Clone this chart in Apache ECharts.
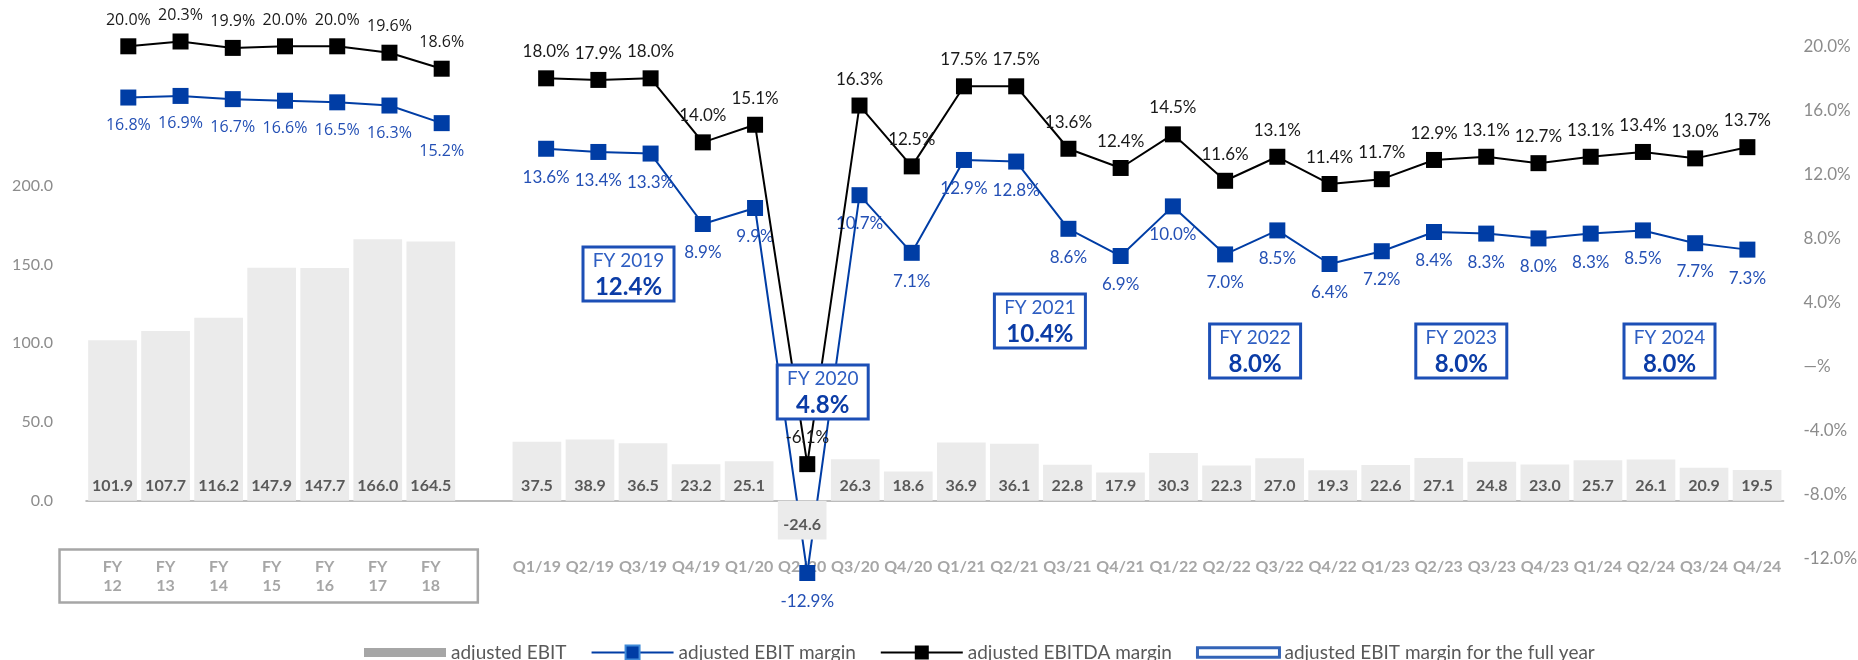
<!DOCTYPE html>
<html>
<head>
<meta charset="utf-8">
<script src="https://cdn.jsdelivr.net/npm/echarts@6/dist/echarts.min.js"></script>
<style>
  html, body { margin: 0; padding: 0; background: #ffffff; }
  #chart { width: 1858px; height: 660px; }
</style>
</head>
<body>
<div id="chart"></div>
<script>
// ---- data ----
const categories = [
  'FY\n12', 'FY\n13', 'FY\n14', 'FY\n15', 'FY\n16', 'FY\n17', 'FY\n18', '',
  'Q1/19', 'Q2/19', 'Q3/19', 'Q4/19', 'Q1/20', 'Q2/20', 'Q3/20', 'Q4/20',
  'Q1/21', 'Q2/21', 'Q3/21', 'Q4/21', 'Q1/22', 'Q2/22', 'Q3/22', 'Q4/22',
  'Q1/23', 'Q2/23', 'Q3/23', 'Q4/23', 'Q1/24', 'Q2/24', 'Q3/24', 'Q4/24'
];
const adjustedEbit = [
  101.9, 107.7, 116.2, 147.9, 147.7, 166.0, 164.5, null,
  37.5, 38.9, 36.5, 23.2, 25.1, -24.6, 26.3, 18.6,
  36.9, 36.1, 22.8, 17.9, 30.3, 22.3, 27.0, 19.3,
  22.6, 27.1, 24.8, 23.0, 25.7, 26.1, 20.9, 19.5
];
const ebitMargin = [
  16.8, 16.9, 16.7, 16.6, 16.5, 16.3, 15.2, null,
  13.6, 13.4, 13.3, 8.9, 9.9, -12.9, 10.7, 7.1,
  12.9, 12.8, 8.6, 6.9, 10.0, 7.0, 8.5, 6.4,
  7.2, 8.4, 8.3, 8.0, 8.3, 8.5, 7.7, 7.3
];
const ebitdaMargin = [
  20.0, 20.3, 19.9, 20.0, 20.0, 19.6, 18.6, null,
  18.0, 17.9, 18.0, 14.0, 15.1, -6.1, 16.3, 12.5,
  17.5, 17.5, 13.6, 12.4, 14.5, 11.6, 13.1, 11.4,
  11.7, 12.9, 13.1, 12.7, 13.1, 13.4, 13.0, 13.7
];
const fullYears = ['FY 2019', 'FY 2020', 'FY 2021', 'FY 2022', 'FY 2023', 'FY 2024'];
const fullYearMargins = [12.4, 4.8, 10.4, 8.0, 8.0, 8.0];
const ebitAxis = { min: -50, max: 300, step: 50, labelFrom: 0, labelTo: 200 };
const marginAxis = { min: -12, max: 20, step: 4 };

// ---- styling ----
const BLUE = '#003da5';
const BLUE_TEXT = '#2450b5';
const GREY_TEXT = '#8c8c8c';
const ANNUAL_COUNT = 7;           // FY12..FY18 use the wider label face
const FIRST_QUARTER = 8;          // index of Q1/19

const chart = echarts.init(document.getElementById('chart'), null, { renderer: 'canvas' });

function lineData(values, color) {
  return values.map((v, i) => v == null ? '-' : {
    value: v,
    label: i < ANNUAL_COUNT
      ? { fontFamily: 'Open Sans', fontSize: 16, color: color }
      : { fontFamily: 'Lato', fontSize: 17, color: color }
  });
}

const pct = v => v.toFixed(1) + '%';

chart.setOption({
  animation: false,
  backgroundColor: '#ffffff',
  grid: [
    // bars
    { left: 86, top: 28.2, width: 1697.6, height: 551.25, outerBoundsMode: 'none', containLabel: false },
    // margin lines
    { left: 102.2, top: 46.3, width: 1671.3, height: 512.3, outerBoundsMode: 'none', containLabel: false }
  ],
  xAxis: [
    {
      type: 'category', gridIndex: 0, data: categories, boundaryGap: true,
      axisLine: { show: true, onZero: true, lineStyle: { color: '#a6a6a6', width: 1.5 } },
      axisTick: { show: false },
      axisLabel: {
        interval: 0, margin: -22, color: '#a6a6a6', fontFamily: 'Lato', fontWeight: 'bold',
        fontSize: 16, lineHeight: 19
      },
      splitLine: { show: false }
    },
    {
      type: 'category', gridIndex: 1, data: categories, boundaryGap: true, show: false
    }
  ],
  yAxis: [
    {
      type: 'value', gridIndex: 0, position: 'left',
      min: ebitAxis.min, max: ebitAxis.max, interval: ebitAxis.step,
      axisLine: { show: false }, axisTick: { show: false }, splitLine: { show: false },
      axisLabel: {
        margin: 33, color: GREY_TEXT, fontFamily: 'Lato', fontSize: 16,
        formatter: v => (v >= ebitAxis.labelFrom && v <= ebitAxis.labelTo) ? v.toFixed(1) : ''
      }
    },
    {
      type: 'value', gridIndex: 1, position: 'right',
      min: marginAxis.min, max: marginAxis.max, interval: marginAxis.step,
      axisLine: { show: false }, axisTick: { show: false }, splitLine: { show: false },
      axisLabel: {
        margin: 30, color: GREY_TEXT, fontFamily: 'Lato', fontSize: 17,
        formatter: v => v === 0 ? '\u2014%' : pct(v)
      }
    }
  ],
  legend: {
    left: 359, top: 638, itemWidth: 82, itemHeight: 17.5, itemGap: 24,
    symbolKeepAspect: true,
    textStyle: { fontFamily: 'Lato', fontSize: 19, color: '#595959' },
    selectedMode: false,
    data: [
      { name: 'adjusted EBIT', icon: 'path://M0,0H82V9H0Z', itemStyle: { color: '#a6a6a6' } },
      { name: 'adjusted EBIT margin', itemStyle: { color: BLUE, borderColor: '#3f8ad8', borderWidth: 2 } },
      { name: 'adjusted EBITDA margin' },
      { name: 'adjusted EBIT margin for the full year', icon: 'path://M0,0H86V10H0Z',
        itemStyle: { color: '#ffffff', borderColor: BLUE, borderWidth: 3 } }
    ]
  },
  series: [
    {
      // bars sit above the margin lines where they cross
      name: 'adjusted EBIT', type: 'bar', xAxisIndex: 0, yAxisIndex: 0,
      data: adjustedEbit.map(v => v == null ? '-' : v),
      barCategoryGap: '8.2%',
      itemStyle: { color: '#ebebeb' },
      label: {
        show: true, position: 'insideBottom', distance: 7,
        color: '#595959', fontFamily: 'Lato', fontWeight: 'bold', fontSize: 16,
        formatter: p => p.value.toFixed(1)
      },
      z: 6
    },
    {
      name: 'adjusted EBIT margin', type: 'line', xAxisIndex: 1, yAxisIndex: 1,
      data: lineData(ebitMargin, BLUE_TEXT),
      clip: false, connectNulls: false,
      symbol: 'rect', symbolSize: 16, showAllSymbol: true,
      lineStyle: { color: BLUE, width: 2 },
      itemStyle: { color: BLUE },
      label: {
        show: true, position: 'bottom', distance: 12,
        formatter: p => pct(p.value)
      },
      z: 4
    },
    {
      name: 'adjusted EBITDA margin', type: 'line', xAxisIndex: 1, yAxisIndex: 1,
      data: lineData(ebitdaMargin, '#1a1a1a'),
      clip: false, connectNulls: false,
      symbol: 'rect', symbolSize: 16, showAllSymbol: true,
      lineStyle: { color: '#000000', width: 2 },
      itemStyle: { color: '#000000' },
      label: {
        show: true, position: 'top', distance: 10,
        formatter: p => pct(p.value)
      },
      z: 5
    },
    {
      name: 'adjusted EBIT margin for the full year', type: 'scatter',
      xAxisIndex: 1, yAxisIndex: 1, data: [],
      symbol: 'rect',
      itemStyle: { color: '#ffffff', borderColor: BLUE, borderWidth: 3 }
    }
  ]
});

// ---- annotations: full-year boxes and the frame around the annual labels ----
// box placement: horizontal nudge from the year's centre and top edge, in pixels
const boxPlacement = [
  { dx: 12, top: 247 }, { dx: -6, top: 365 }, { dx: -1, top: 294 },
  { dx: 2, top: 324 }, { dx: -4, top: 324 }, { dx: -8, top: 324 }
];
const BOX_W = 91, BOX_H = 54;

function catX(i) {
  return chart.convertToPixel({ xAxisIndex: 0 }, i);
}

const graphics = [];
fullYears.forEach((label, k) => {
  const q1 = FIRST_QUARTER + 4 * k;
  const cx = (catX(q1) + catX(q1 + 3)) / 2 + boxPlacement[k].dx;
  const top = boxPlacement[k].top;
  graphics.push({
    type: 'rect', z: 100, zlevel: 1,
    shape: { x: cx - BOX_W / 2, y: top, width: BOX_W, height: BOX_H },
    style: { fill: '#ffffff', stroke: '#1c4fb6', lineWidth: 3 }
  });
  graphics.push({
    type: 'text', z: 101, zlevel: 1, x: cx, y: top + 14,
    style: { text: label, align: 'center', verticalAlign: 'middle',
             fontFamily: 'Lato', fontSize: 19, fill: '#2e5ec2' }
  });
  graphics.push({
    type: 'text', z: 101, zlevel: 1, x: cx, y: top + 40,
    style: { text: pct(fullYearMargins[k]), align: 'center', verticalAlign: 'middle',
             fontFamily: 'Lato', fontWeight: 'bold', fontSize: 24, fill: '#0b3ca6' }
  });
});

const frameLeft = catX(0) - 53;
const frameRight = catX(ANNUAL_COUNT - 1) + 47;
graphics.push({
  type: 'rect', z: 1,
  shape: { x: frameLeft, y: 549.5, width: frameRight - frameLeft, height: 53 },
  style: { fill: 'none', stroke: '#a6a6a6', lineWidth: 2.5 }
});

chart.setOption({ graphic: graphics });
</script>
</body>
</html>
